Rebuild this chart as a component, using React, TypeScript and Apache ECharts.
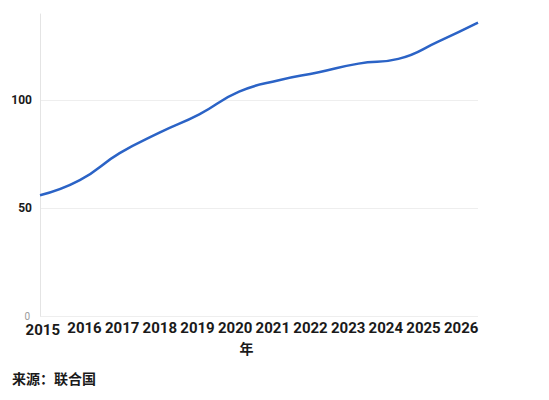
import React, { useEffect, useRef } from "react";
import * as echarts from "echarts";

// years on the x axis
const years = ["2015", "2016", "2017", "2018", "2019", "2020", "2021", "2022", "2023", "2024", "2025", "2026"];
// series values
const values = [56, 63, 75.5, 85, 93.5, 104, 109.3, 113, 117, 119.2, 127.2, 136];
const yTicks = { min: 0, max: 140, interval: 50 };
const xName = "年";
const source = "来源：联合国";

const FONT = "Roboto, 'Noto Sans CJK SC', sans-serif";

const App = () => {
  const chartRef = useRef<HTMLDivElement>(null);

  // eslint-disable-next-line consistent-return
  useEffect(() => {
    if (chartRef.current) {
      const chart = echarts.init(chartRef.current, null, { renderer: "svg" });
      const options: echarts.EChartsOption = {
        animation: false,
        textStyle: { fontFamily: FONT },
        grid: [
          { left: 40, right: 71, top: 14, bottom: 84 },
          // second grid only carries the year labels
          { left: 28, right: 69, top: 14, bottom: 84 },
        ],
        xAxis: [
          {
            type: "category",
            gridIndex: 0,
            data: years,
            boundaryGap: false,
            axisLine: { show: false },
            axisTick: { show: false },
            axisLabel: { show: false },
          },
          {
            type: "category",
            gridIndex: 1,
            data: years,
            boundaryGap: true,
            axisLine: { show: false },
            axisTick: { show: false },
            axisLabel: {
              interval: 0,
              margin: 4,
              fontSize: 15,
              fontWeight: "bold",
              color: "#1a1a1a",
              formatter: (v: string, i: number) => (i === 0 ? `{f|${v}}` : v),
              rich: {
                f: {
                  fontSize: 15,
                  fontWeight: "bold",
                  color: "#1a1a1a",
                  padding: [2, 8, 0, 0],
                },
              },
            },
            name: xName,
            nameLocation: "middle",
            nameGap: 26,
            nameTextStyle: {
              fontSize: 14,
              fontWeight: "bold",
              color: "#1a1a1a",
              padding: [0, 15, 0, 0],
            },
          },
        ],
        yAxis: [
          {
            type: "value",
            gridIndex: 0,
            min: yTicks.min,
            max: yTicks.max,
            interval: yTicks.interval,
            axisLine: { show: true, lineStyle: { color: "#e4e4e4" } },
            axisTick: { show: false },
            axisLabel: {
              showMaxLabel: false,
              margin: 8,
              fontSize: 12,
              fontWeight: "bold",
              color: "#1a1a1a",
              formatter: (v: number) => (v === 0 ? "{z|0}" : String(v)),
              rich: {
                z: { fontSize: 10, color: "#9a9a9a", fontWeight: "normal", padding: [0, 2, 0, 0] },
              },
            },
            splitLine: { showMaxLine: false, lineStyle: { color: "#eeeeee" } },
          },
          {
            type: "value",
            gridIndex: 1,
            show: false,
          },
        ],
        series: [
          {
            type: "line",
            xAxisIndex: 0,
            yAxisIndex: 0,
            data: values,
            smooth: true,
            showSymbol: false,
            lineStyle: { color: "#2b63c6", width: 2.5 },
          },
        ],
        graphic: [
          {
            type: "text",
            left: 12,
            top: 372,
            style: {
              text: source,
              fontSize: 14,
              fontWeight: "bold",
              fill: "#1a1a1a",
              fontFamily: FONT,
            },
          },
        ],
      };
      chart.setOption(options);
      return () => {
        chart.dispose();
      };
    }
  }, []);

  return (
    <div
      ref={chartRef}
      style={{ position: "absolute", left: 0, top: 0, width: "549px", height: "400px" }}
    />
  );
};

export default App;
